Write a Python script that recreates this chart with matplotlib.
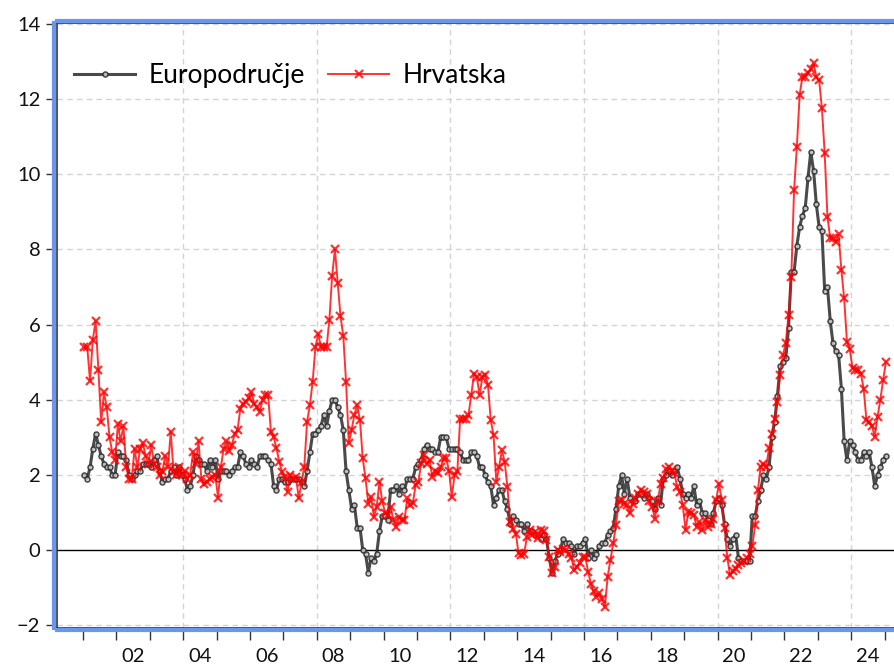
import numpy as np
import matplotlib.pyplot as plt

plt.rcParams['font.family'] = ['Lato', 'DejaVu Sans']

# monthly y/y inflation, Jan 2001 .. Jan 2025
start_year = 2001
euro = [
    2.0, 1.9, 2.2, 2.7, 3.1, 2.8, 2.5, 2.3, 2.2, 2.2, 2.0, 2.0,   # 2001
    2.6, 2.5, 2.5, 2.4, 2.0, 1.9, 2.0, 2.1, 2.1, 2.3, 2.3, 2.3,   # 2002
    2.2, 2.4, 2.5, 2.1, 1.8, 1.9, 1.9, 2.1, 2.2, 2.0, 2.2, 2.0,   # 2003
    1.9, 1.6, 1.7, 2.0, 2.5, 2.4, 2.3, 2.3, 2.1, 2.4, 2.2, 2.4,   # 2004
    1.9, 2.1, 2.1, 2.1, 2.0, 2.1, 2.2, 2.2, 2.6, 2.5, 2.3, 2.2,   # 2005
    2.4, 2.3, 2.2, 2.5, 2.5, 2.5, 2.4, 2.3, 1.7, 1.6, 1.9, 1.9,   # 2006
    1.8, 1.8, 1.9, 1.9, 1.9, 1.9, 1.8, 1.7, 2.1, 2.6, 3.1, 3.1,   # 2007
    3.2, 3.3, 3.6, 3.3, 3.7, 4.0, 4.0, 3.8, 3.6, 3.2, 2.1, 1.6,   # 2008
    1.1, 1.2, 0.6, 0.6, 0.0, -0.1, -0.6, -0.2, -0.3, -0.1, 0.5, 0.9,  # 2009
    0.9, 0.8, 1.6, 1.6, 1.7, 1.5, 1.7, 1.6, 1.9, 1.9, 1.9, 2.2,   # 2010
    2.3, 2.4, 2.7, 2.8, 2.7, 2.7, 2.6, 2.6, 3.0, 3.0, 3.0, 2.7,   # 2011
    2.7, 2.7, 2.7, 2.6, 2.4, 2.4, 2.4, 2.6, 2.6, 2.5, 2.2, 2.2,   # 2012
    2.0, 1.8, 1.7, 1.2, 1.4, 1.6, 1.6, 1.3, 1.1, 0.7, 0.9, 0.8,   # 2013
    0.7, 0.7, 0.5, 0.7, 0.5, 0.5, 0.4, 0.4, 0.3, 0.4, 0.3, -0.2,  # 2014
    -0.6, -0.3, -0.1, 0.0, 0.3, 0.2, 0.2, 0.1, -0.1, 0.1, 0.1, 0.2,  # 2015
    0.3, -0.2, 0.0, -0.2, -0.1, 0.1, 0.2, 0.2, 0.4, 0.5, 0.6, 1.1,  # 2016
    1.7, 2.0, 1.5, 1.9, 1.4, 1.3, 1.3, 1.5, 1.5, 1.4, 1.5, 1.4,   # 2017
    1.3, 1.1, 1.4, 1.2, 1.9, 2.0, 2.1, 2.0, 2.1, 2.2, 1.9, 1.5,   # 2018
    1.4, 1.5, 1.4, 1.7, 1.2, 1.3, 1.0, 1.0, 0.8, 0.7, 1.0, 1.3,   # 2019
    1.4, 1.2, 0.7, 0.3, 0.1, 0.3, 0.4, -0.2, -0.3, -0.3, -0.3, -0.3,  # 2020
    0.9, 0.9, 1.3, 1.6, 2.0, 1.9, 2.2, 3.0, 3.4, 4.1, 4.9, 5.0,   # 2021
    5.1, 5.9, 7.4, 7.4, 8.1, 8.6, 8.9, 9.1, 9.9, 10.6, 10.1, 9.2,  # 2022
    8.6, 8.5, 6.9, 7.0, 6.1, 5.5, 5.3, 5.2, 4.3, 2.9, 2.4, 2.9,   # 2023
    2.8, 2.6, 2.4, 2.4, 2.6, 2.5, 2.6, 2.2, 1.7, 2.0, 2.2, 2.4,   # 2024
    2.5,                                                          # 2025
]
hrv = [
    5.4, 5.4, 4.5, 5.6, 6.1, 4.8, 3.4, 4.2, 3.8, 3.0, 2.6, 2.4,   # 2001
    3.35, 2.9, 3.3, 2.2, 1.9, 1.9, 2.7, 2.2, 2.7, 2.85, 2.5, 2.3,  # 2002
    2.8, 2.3, 2.2, 2.0, 2.1, 2.5, 2.2, 3.15, 2.1, 2.0, 2.2, 2.0,  # 2003
    2.1, 1.9, 2.0, 2.6, 2.3, 2.9, 1.9, 1.75, 1.8, 1.9, 1.95, 2.0,  # 2004
    1.4, 2.2, 2.7, 2.9, 2.65, 2.8, 3.1, 3.2, 3.75, 3.9, 3.95, 4.05,  # 2005
    4.2, 3.9, 3.8, 3.68, 4.0, 4.13, 4.13, 3.15, 3.0, 2.71, 2.35, 2.08,  # 2006
    1.95, 1.55, 2.0, 1.9, 1.95, 1.38, 1.8, 2.22, 3.42, 3.86, 4.48, 5.41,  # 2007
    5.75, 5.4, 5.4, 5.4, 6.12, 7.3, 8.0, 7.1, 6.23, 5.7, 4.48, 2.85,  # 2008
    3.2, 3.6, 3.86, 3.46, 2.44, 1.91, 1.24, 1.42, 0.89, 1.15, 1.82, 1.3,  # 2009
    1.0, 0.93, 1.15, 0.8, 0.62, 0.89, 0.8, 0.8, 1.38, 1.2, 1.25, 1.73,  # 2010
    1.82, 2.31, 2.53, 2.3, 2.4, 1.95, 2.1, 2.04, 2.2, 2.45, 2.45, 2.1,  # 2011
    1.42, 2.0, 2.1, 3.5, 3.5, 3.5, 3.6, 4.13, 4.7, 4.6, 4.13, 4.6,  # 2012
    4.66, 4.4, 3.46, 3.06, 1.82, 2.22, 2.66, 2.35, 1.68, 0.75, 0.57, 0.44,  # 2013
    -0.09, -0.13, -0.1, 0.36, 0.53, 0.4, 0.49, 0.31, 0.53, 0.5, 0.27, -0.18,  # 2014
    -0.62, -0.44, 0.0, -0.04, 0.04, 0.0, -0.1, -0.22, -0.53, -0.44, -0.35, -0.18,  # 2015
    -0.18, -0.58, -0.89, -1.1, -1.24, -1.15, -1.3, -1.51, -0.71, -0.27, 0.18, 0.66,  # 2016
    1.3, 1.33, 1.24, 1.2, 0.98, 1.24, 1.4, 1.5, 1.6, 1.55, 1.5, 1.3,  # 2017
    1.15, 0.84, 1.3, 1.75, 1.91, 2.17, 2.2, 2.13, 2.04, 1.68, 1.55, 1.2,  # 2018
    0.53, 1.02, 1.0, 0.93, 0.62, 0.75, 0.53, 0.8, 0.62, 0.7, 0.84, 1.33,  # 2019
    1.77, 1.33, 0.6, -0.2, -0.67, -0.55, -0.5, -0.4, -0.35, -0.3, -0.2, -0.1,  # 2020
    0.1, 0.67, 1.6, 2.22, 2.3, 2.22, 2.71, 3.1, 3.5, 3.95, 4.66, 5.19,  # 2021
    5.5, 6.25, 7.27, 9.58, 10.73, 12.11, 12.6, 12.6, 12.7, 12.8, 12.95, 12.6,  # 2022
    12.5, 11.76, 10.56, 8.87, 8.3, 8.3, 8.2, 8.4, 7.45, 6.7, 5.54, 5.36,  # 2023
    4.84, 4.8, 4.8, 4.7, 4.3, 3.46, 3.4, 3.3, 3.02, 3.55, 4.0, 4.53,  # 2024
    5.0,                                                          # 2025
]
year_labels = ['02', '04', '06', '08', '10', '12', '14', '16', '18', '20', '22', '24']
y_ticks = [-2, 0, 2, 4, 6, 8, 10, 12, 14]

t = start_year + (np.arange(len(euro)) + 0.5) / 12.0

fig = plt.figure(figsize=(8.94, 6.69), dpi=100)
ax = fig.add_axes([0.0638, 0.062, 0.948, 0.9032])
ax.set_xlim(2000.22, 2025.6)
ax.set_ylim(-2.06, 14.02)

# grid
for y in y_ticks:
    if y != 0:
        ax.axhline(y, color='#d4d4d4', lw=1, ls=(0, (4, 3)), zorder=0)
for yr in range(2004, 2025, 4):
    ax.axvline(yr, color='#d4d4d4', lw=1, ls=(0, (4, 3)), zorder=0)
ax.axhline(0, color='black', lw=1, zorder=1)

ax.plot(t, euro, color='#2a2a2a', lw=2.2, marker='o', ms=3.6, mfc='#d0d0d0',
        mec='#2a2a2a', mew=1.1, alpha=0.85, label='Europodručje', zorder=3)
ax.plot(t, hrv, color='red', lw=1.4, marker='x', ms=6, mew=1.6, alpha=0.8,
        label='Hrvatska', zorder=4)

# ticks: year boundaries, labels centred in the year
ax.set_xticks(np.arange(2001, 2026))
ax.set_xticklabels([])
ax.set_xticks(np.arange(2002, 2025, 2) + 0.5, minor=True)
ax.set_xticklabels(year_labels, minor=True)
ax.tick_params(axis='x', which='major', direction='out', length=7, width=1, color='#333333')
ax.tick_params(axis='x', which='minor', length=0, pad=13, labelsize=14.5, labelcolor='#111111')
ax.set_yticks(y_ticks)
ax.tick_params(axis='y', direction='out', length=6, width=1, pad=4, color='#333333',
               labelsize=14.5, labelcolor='#111111')

# frame: blue outer highlight, dark inner line
for s in ['left', 'top', 'bottom']:
    ax.spines[s].set_color('#6a96ee')
    ax.spines[s].set_linewidth(3)
    ax.spines[s].set_position(('outward', 2))
ax.spines['right'].set_visible(False)
ax.plot([0, 1], [1, 1], transform=ax.transAxes, color='#333333', lw=1.2, clip_on=False)
ax.plot([0, 1], [0, 0], transform=ax.transAxes, color='#333333', lw=1.2, clip_on=False)
ax.plot([0, 0], [0, 1], transform=ax.transAxes, color='#333333', lw=1.2, clip_on=False)

ax.legend(loc='upper left', bbox_to_anchor=(0.008, 0.952), ncol=2, frameon=False,
          fontsize=19, handlelength=2.3, handletextpad=0.5, columnspacing=0.9,
          numpoints=1, borderaxespad=0)

fig.savefig('out.png', dpi=100)
